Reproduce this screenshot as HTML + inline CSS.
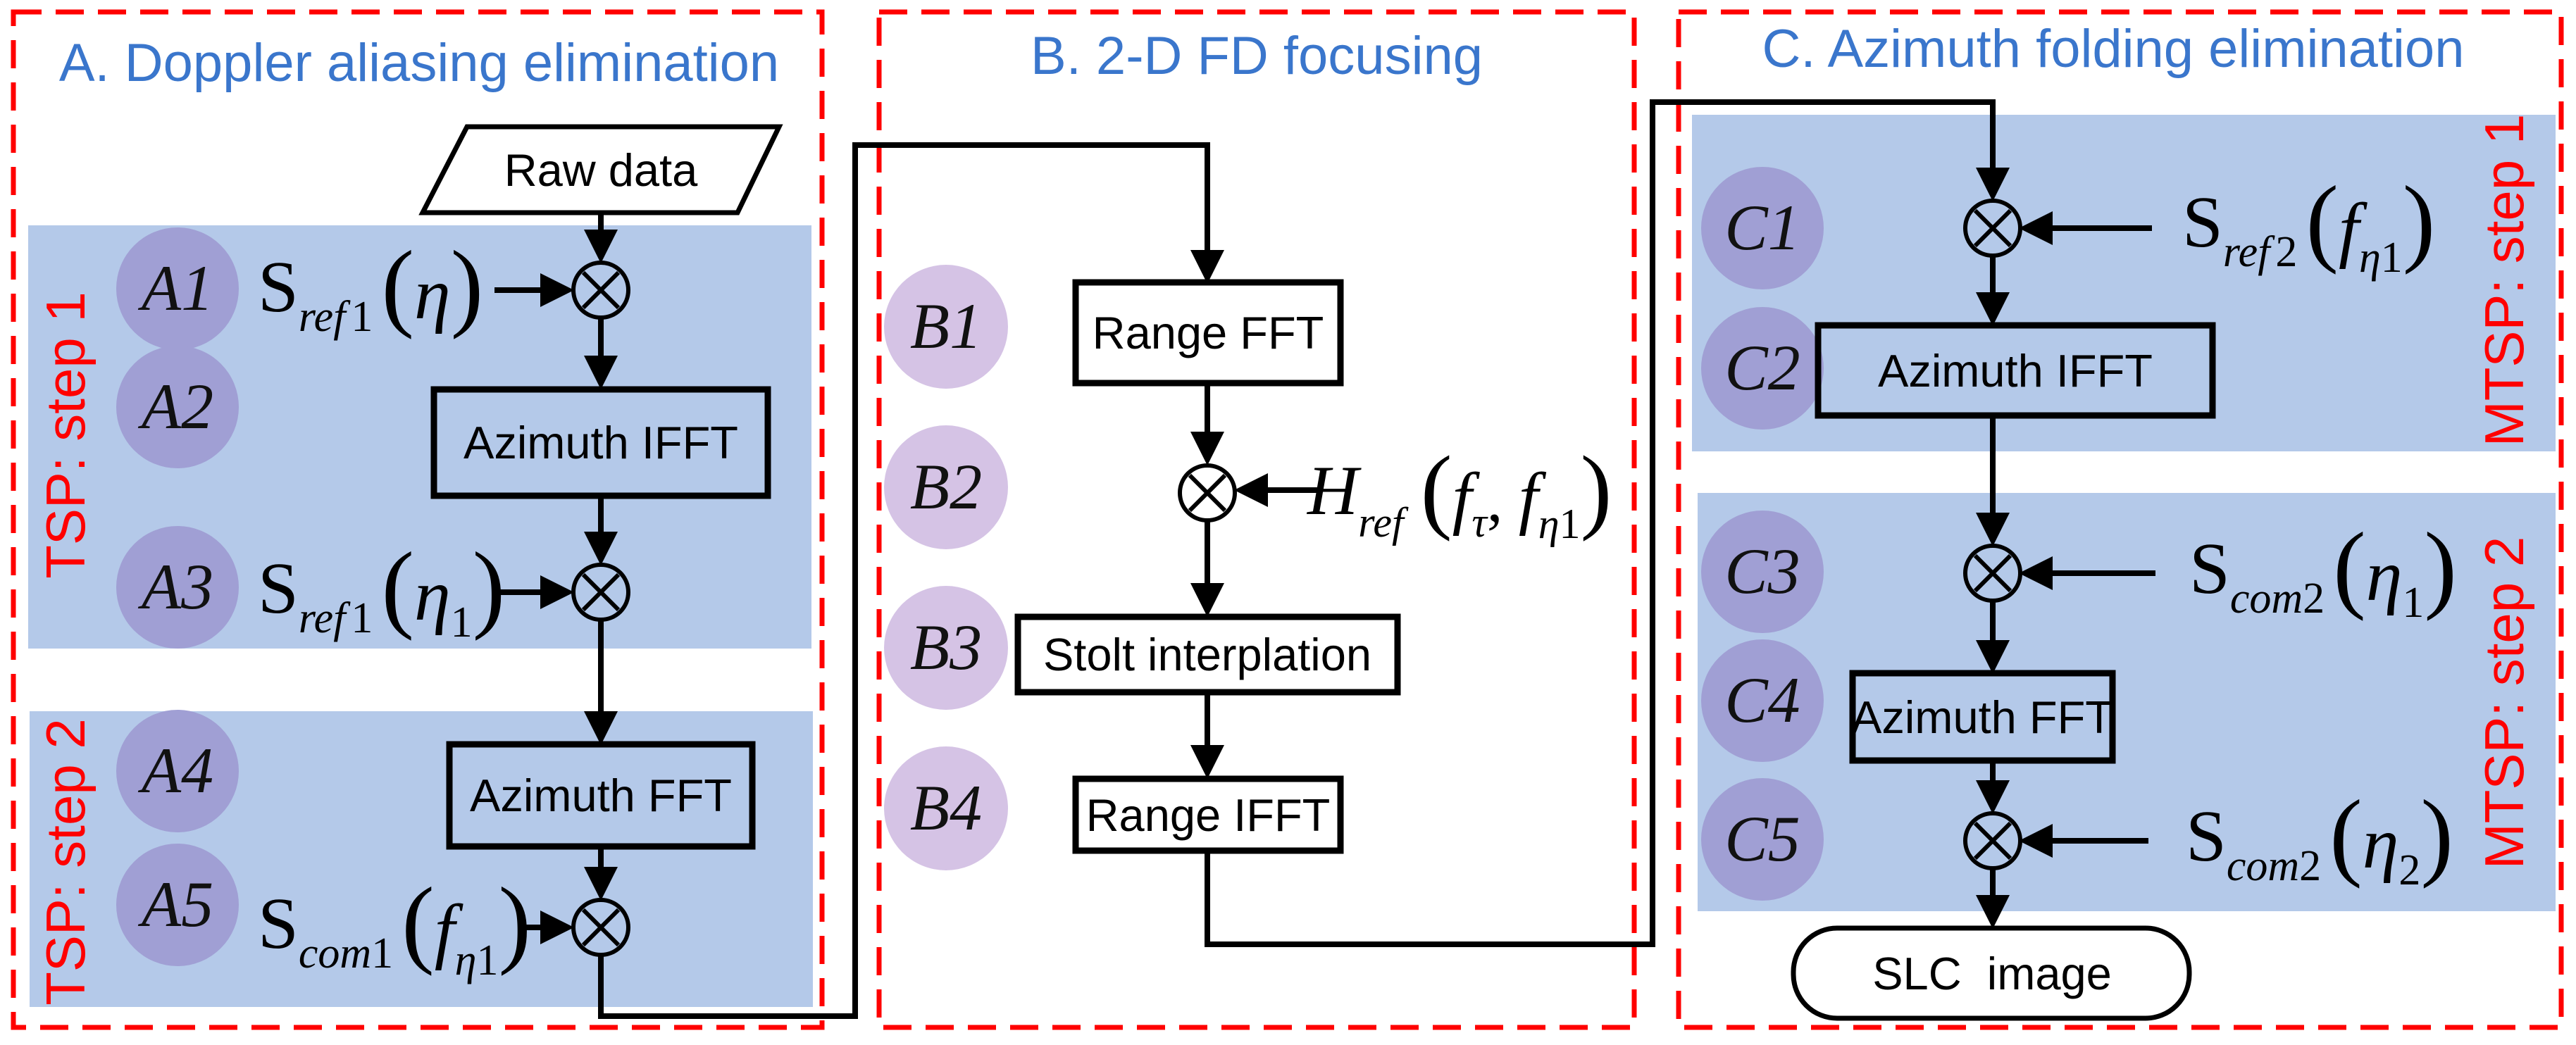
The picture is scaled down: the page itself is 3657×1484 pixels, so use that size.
<!DOCTYPE html>
<html><head><meta charset="utf-8"><style>
html,body{margin:0;padding:0;background:#fff;}
svg{display:block;}
.box{fill:none;stroke:#000;stroke-width:9;}
.bt{font-family:"Liberation Sans",sans-serif;font-size:65px;fill:#000;text-anchor:middle;}
.ln{stroke:#000;stroke-width:8;fill:none;}
.lab{font-family:"Liberation Serif",serif;font-style:italic;font-size:92px;fill:#111;text-anchor:middle;}
.ttl{font-family:"Liberation Sans",sans-serif;font-size:76px;fill:#3a76cc;text-anchor:middle;}
.red{font-family:"Liberation Sans",sans-serif;font-size:78px;fill:#ff0000;text-anchor:middle;}
.f{font-family:"Liberation Serif",serif;fill:#000;}
</style></head><body>
<svg width="3657" height="1484" viewBox="0 0 3657 1484" xmlns="http://www.w3.org/2000/svg">
<defs>
<marker id="ar" markerWidth="6" markerHeight="6" refX="5" refY="3" orient="auto" markerUnits="strokeWidth">
<path d="M0,0 L6,3 L0,6 z" fill="#000"/></marker>
<g id="ox"><circle r="39" fill="none" stroke="#000" stroke-width="6"/><path d="M-25,-25 L25,25 M25,-25 L-25,25" stroke="#000" stroke-width="6"/></g>
</defs>
<!-- panels -->
<rect x="40" y="320" width="1112" height="601" fill="#b4c9e9"/>
<rect x="42" y="1010" width="1112" height="420" fill="#b4c9e9"/>
<rect x="2402" y="163" width="1226" height="478" fill="#b4c9e9"/>
<rect x="2410" y="700" width="1218" height="594" fill="#b4c9e9"/>
<!-- frames -->
<g fill="none" stroke="#ff0000" stroke-width="7" stroke-dasharray="40,20">
<rect x="19" y="17" width="1148" height="1442"/>
<rect x="1248" y="17" width="1072" height="1442"/>
<rect x="2383" y="17" width="1253" height="1442"/>
</g>
<!-- titles -->
<text class="ttl" x="595" y="115">A. Doppler aliasing elimination</text>
<text class="ttl" x="1784" y="105">B. 2-D FD focusing</text>
<text class="ttl" x="3000" y="95">C. Azimuth folding elimination</text>
<!-- red vertical labels -->
<text class="red" transform="translate(120,618) rotate(-90)">TSP: step 1</text>
<text class="red" transform="translate(120,1224) rotate(-90)">TSP: step 2</text>
<text class="red" transform="translate(3582,398) rotate(-90)">MTSP: step 1</text>
<text class="red" transform="translate(3582,998) rotate(-90)">MTSP: step 2</text>
<!-- circles -->
<g fill="#a09fd4">
<circle cx="252" cy="410" r="87"/><circle cx="252" cy="578" r="87"/><circle cx="252" cy="834" r="87"/>
<circle cx="252" cy="1095" r="87"/><circle cx="252" cy="1285" r="87"/>
<circle cx="2502" cy="324" r="87"/><circle cx="2502" cy="523" r="87"/><circle cx="2502" cy="812" r="87"/>
<circle cx="2502" cy="995" r="87"/><circle cx="2502" cy="1192" r="87"/>
</g>
<g fill="#d5c3e5">
<circle cx="1343" cy="464" r="88"/><circle cx="1343" cy="692" r="88"/><circle cx="1343" cy="920" r="88"/><circle cx="1343" cy="1148" r="88"/>
</g>
<g class="lab">
<text x="252" y="440">A1</text><text x="252" y="608">A2</text><text x="252" y="864">A3</text><text x="252" y="1125">A4</text><text x="252" y="1315">A5</text>
<text x="2502" y="354">C1</text><text x="2502" y="553">C2</text><text x="2502" y="842">C3</text><text x="2502" y="1025">C4</text><text x="2502" y="1222">C5</text>
<text x="1343" y="494">B1</text><text x="1343" y="722">B2</text><text x="1343" y="950">B3</text><text x="1343" y="1178">B4</text>
</g>
<!-- Column A -->
<path d="M663,180 L1106,180 L1047,302 L600,302 z" fill="#fff" stroke="#000" stroke-width="7"/>
<text class="bt" x="853" y="264">Raw data</text>
<use href="#ox" x="853" y="412"/>
<path class="ln" d="M853,302 L853,366" marker-end="url(#ar)"/>
<path class="ln" d="M702,412 L807,412" marker-end="url(#ar)"/>
<path class="ln" d="M853,451 L853,545" marker-end="url(#ar)"/>
<rect class="box" x="616" y="553" width="474" height="151"/>
<text class="bt" x="853" y="651">Azimuth IFFT</text>
<path class="ln" d="M853,704 L853,795" marker-end="url(#ar)"/>
<use href="#ox" x="853" y="841"/>
<path class="ln" d="M702,841 L807,841" marker-end="url(#ar)"/>
<path class="ln" d="M853,880 L853,1050" marker-end="url(#ar)"/>
<rect class="box" x="638" y="1057" width="430" height="145"/>
<text class="bt" x="853" y="1152">Azimuth FFT</text>
<path class="ln" d="M853,1202 L853,1271" marker-end="url(#ar)"/>
<use href="#ox" x="853" y="1317"/>
<path class="ln" d="M735,1317 L807,1317" marker-end="url(#ar)"/>
<path class="ln" d="M853,1356 L853,1443 L1214,1443 L1214,206 L1714,206 L1714,395" marker-end="url(#ar)"/>
<!-- formulas A -->
<text class="f" x="366" y="442"><tspan font-size="104">S</tspan><tspan font-size="62" font-style="italic" dy="28">ref</tspan><tspan font-size="62" dx="8">1</tspan><tspan font-size="140" dy="-18" dx="12">(</tspan><tspan font-size="104" font-style="italic">η</tspan><tspan font-size="140">)</tspan></text>
<text class="f" x="366" y="870"><tspan font-size="104">S</tspan><tspan font-size="62" font-style="italic" dy="28">ref</tspan><tspan font-size="62" dx="8">1</tspan><tspan font-size="140" dy="-18" dx="12">(</tspan><tspan font-size="104" font-style="italic">η</tspan><tspan font-size="62" dy="24">1</tspan><tspan font-size="140" dy="-24">)</tspan></text>
<text class="f" x="366" y="1346"><tspan font-size="104">S</tspan><tspan font-size="62" font-style="italic" dy="28">com</tspan><tspan font-size="62">1</tspan><tspan font-size="140" dy="-18" dx="12">(</tspan><tspan font-size="104" font-style="italic">f</tspan><tspan font-size="62" font-style="italic" dy="28">η</tspan><tspan font-size="62">1</tspan><tspan font-size="140" dy="-28">)</tspan></text>
<!-- Column B -->
<rect class="box" x="1527" y="401" width="376" height="143"/>
<text class="bt" x="1715" y="495">Range FFT</text>
<path class="ln" d="M1714,544 L1714,653" marker-end="url(#ar)"/>
<use href="#ox" x="1714" y="700"/>
<path class="ln" d="M1872,696 L1760,696" marker-end="url(#ar)"/>
<path class="ln" d="M1714,739 L1714,868" marker-end="url(#ar)"/>
<rect class="box" x="1445" y="876" width="539" height="107"/>
<text class="bt" x="1714" y="952">Stolt interplation</text>
<path class="ln" d="M1714,983 L1714,1098" marker-end="url(#ar)"/>
<rect class="box" x="1527" y="1106" width="376" height="102"/>
<text class="bt" x="1715" y="1180">Range IFFT</text>
<path class="ln" d="M1714,1208 L1714,1341 L2346,1341 L2346,145 L2829,145 L2829,278" marker-end="url(#ar)"/>
<text class="f" x="1856" y="730"><tspan font-size="100" font-style="italic">H</tspan><tspan font-size="60" font-style="italic" dy="32">ref</tspan><tspan font-size="135" dy="-22" dx="24">(</tspan><tspan font-size="100" font-style="italic">f</tspan><tspan font-size="60" font-style="italic" dy="22">τ</tspan><tspan font-size="90" dy="-22">, </tspan><tspan font-size="100" font-style="italic">f</tspan><tspan font-size="60" font-style="italic" dy="24">η</tspan><tspan font-size="60">1</tspan><tspan font-size="135" dy="-24">)</tspan></text>
<!-- Column C -->
<use href="#ox" x="2829" y="324"/>
<path class="ln" d="M3055,324 L2874,324" marker-end="url(#ar)"/>
<path class="ln" d="M2829,363 L2829,455" marker-end="url(#ar)"/>
<rect class="box" x="2581" y="462" width="560" height="128"/>
<text class="bt" x="2861" y="549">Azimuth IFFT</text>
<path class="ln" d="M2829,590 L2829,768" marker-end="url(#ar)"/>
<use href="#ox" x="2829" y="814"/>
<path class="ln" d="M3060,814 L2874,814" marker-end="url(#ar)"/>
<path class="ln" d="M2829,853 L2829,949" marker-end="url(#ar)"/>
<rect class="box" x="2630" y="956" width="369" height="124"/>
<text class="bt" x="2814" y="1041">Azimuth FFT</text>
<path class="ln" d="M2829,1080 L2829,1148" marker-end="url(#ar)"/>
<use href="#ox" x="2829" y="1194"/>
<path class="ln" d="M3050,1194 L2874,1194" marker-end="url(#ar)"/>
<path class="ln" d="M2829,1233 L2829,1311" marker-end="url(#ar)"/>
<rect x="2546" y="1318" width="562" height="128" rx="62" fill="#fff" stroke="#000" stroke-width="7"/>
<text class="bt" x="2828" y="1405">SLC&#160; image</text>
<text class="f" x="3098" y="350"><tspan font-size="104">S</tspan><tspan font-size="62" font-style="italic" dy="28">ref</tspan><tspan font-size="62" dx="8">2</tspan><tspan font-size="140" dy="-18" dx="12">(</tspan><tspan font-size="104" font-style="italic">f</tspan><tspan font-size="62" font-style="italic" dy="26">η</tspan><tspan font-size="62">1</tspan><tspan font-size="140" dy="-26">)</tspan></text>
<text class="f" x="3108" y="842"><tspan font-size="104">S</tspan><tspan font-size="62" font-style="italic" dy="28">com</tspan><tspan font-size="62">2</tspan><tspan font-size="140" dy="-18" dx="12">(</tspan><tspan font-size="104" font-style="italic">η</tspan><tspan font-size="62" dy="24">1</tspan><tspan font-size="140" dy="-24">)</tspan></text>
<text class="f" x="3103" y="1222"><tspan font-size="104">S</tspan><tspan font-size="62" font-style="italic" dy="28">com</tspan><tspan font-size="62">2</tspan><tspan font-size="140" dy="-18" dx="12">(</tspan><tspan font-size="104" font-style="italic">η</tspan><tspan font-size="62" dy="24">2</tspan><tspan font-size="140" dy="-24">)</tspan></text>
</svg>
</body></html>
